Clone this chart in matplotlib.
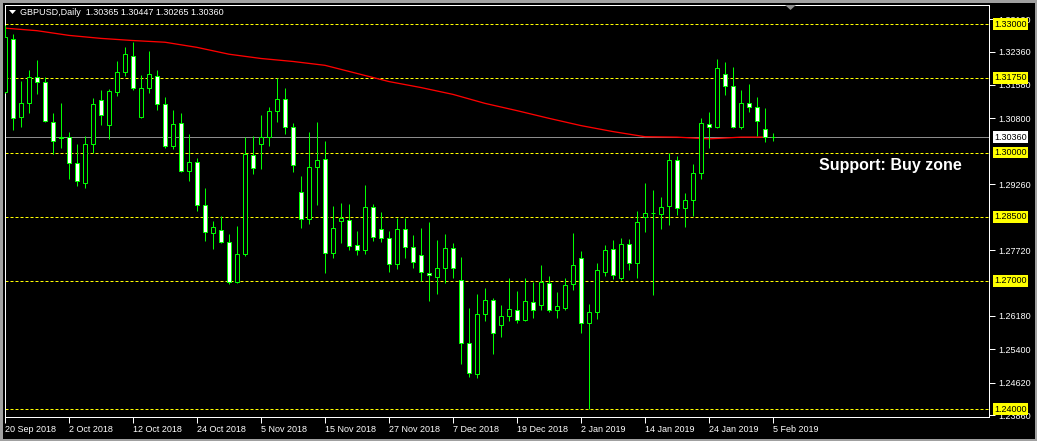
import numpy as np
import matplotlib
matplotlib.use("Agg")
import matplotlib.pyplot as plt
from matplotlib.patches import Polygon, Rectangle

# GBPUSD daily candles, 20 Sep 2018 .. 5 Feb 2019
opens = [1.31406, 1.32648, 1.30820, 1.31148, 1.31758, 1.31641, 1.30703, 1.30375, 1.30352, 1.29766,
         1.29297, 1.30211, 1.31219, 1.30633, 1.31406, 1.31875, 1.32250, 1.30820, 1.31500, 1.31781,
         1.31125, 1.30164, 1.30680, 1.29578, 1.29789, 1.28781, 1.28125, 1.28195, 1.27914, 1.26977,
         1.27633, 1.29953, 1.30211, 1.30352, 1.30961, 1.31242, 1.30609, 1.29086, 1.28453, 1.29672,
         1.29859, 1.27656, 1.28406, 1.28430, 1.27844, 1.27727, 1.28734, 1.28219, 1.28008, 1.27398,
         1.28219, 1.27797, 1.27609, 1.27188, 1.27094, 1.27305, 1.27773, 1.27023, 1.25547, 1.24820,
         1.26227, 1.26555, 1.25969, 1.26180, 1.26320, 1.26086, 1.26508, 1.26438, 1.26953, 1.26320,
         1.26367, 1.26930, 1.27539, 1.26016, 1.26273, 1.27211, 1.27750, 1.27070, 1.27867, 1.27422,
         1.28500, 1.28594, 1.28570, 1.28758, 1.29836, 1.28711, 1.28898, 1.29531, 1.30656, 1.30586,
         1.31828, 1.31547, 1.30609, 1.31148, 1.31055, 1.30539, 1.30365]
highs = [1.32977, 1.32766, 1.31664, 1.31922, 1.32156, 1.31758, 1.30914, 1.31148, 1.30469, 1.30211,
         1.30398, 1.31266, 1.31453, 1.31477, 1.32133, 1.32461, 1.32578, 1.31805, 1.32367, 1.31922,
         1.31289, 1.30984, 1.30914, 1.30445, 1.29883, 1.29180, 1.28406, 1.28523, 1.28102, 1.28289,
         1.30375, 1.30398, 1.30867, 1.31055, 1.31734, 1.31500, 1.30680, 1.29461, 1.30469, 1.30703,
         1.30281, 1.28758, 1.28828, 1.28805, 1.28172, 1.29250, 1.28805, 1.28617, 1.28172, 1.28477,
         1.28477, 1.28078, 1.28242, 1.28383, 1.27961, 1.28102, 1.27891, 1.27563, 1.26367, 1.26695,
         1.26836, 1.26602, 1.26438, 1.27070, 1.26766, 1.27070, 1.26977, 1.27375, 1.27117, 1.26742,
         1.27070, 1.28125, 1.27703, 1.26461, 1.27422, 1.27844, 1.27961, 1.28008, 1.27984, 1.28641,
         1.29297, 1.29133, 1.28969, 1.30000, 1.29930, 1.29063, 1.29742, 1.30797, 1.30938, 1.32180,
         1.32109, 1.31992, 1.31453, 1.31594, 1.31289, 1.31031, 1.30447]
lows = [1.31383, 1.30516, 1.30586, 1.30914, 1.31359, 1.30703, 1.29977, 1.30117, 1.29391, 1.29227,
        1.29180, 1.30000, 1.30633, 1.30328, 1.31313, 1.31781, 1.31453, 1.30797, 1.31383, 1.30984,
        1.30117, 1.30094, 1.29555, 1.29344, 1.28641, 1.27938, 1.27750, 1.27891, 1.26930, 1.26953,
        1.27586, 1.29508, 1.29625, 1.30164, 1.30703, 1.30445, 1.29555, 1.28242, 1.28336, 1.28781,
        1.27188, 1.27539, 1.27891, 1.27727, 1.27609, 1.27633, 1.27938, 1.27914, 1.27211, 1.27281,
        1.27539, 1.27305, 1.27000, 1.26531, 1.26695, 1.26953, 1.27070, 1.25055, 1.24750, 1.24727,
        1.26063, 1.25289, 1.25688, 1.26063, 1.26016, 1.26063, 1.26133, 1.26320, 1.26273, 1.26133,
        1.26320, 1.26789, 1.25781, 1.24000, 1.26109, 1.27117, 1.27047, 1.27023, 1.27258, 1.27070,
        1.28148, 1.26672, 1.28219, 1.28313, 1.28547, 1.28266, 1.28523, 1.29391, 1.30117, 1.30563,
        1.31336, 1.30563, 1.30539, 1.30938, 1.30398, 1.30258, 1.30265]
closes = [1.32695, 1.30797, 1.31148, 1.31758, 1.31641, 1.30727, 1.30281, 1.30340, 1.29766, 1.29344,
          1.30211, 1.31125, 1.30867, 1.31430, 1.31875, 1.32297, 1.31500, 1.31500, 1.31828, 1.31125,
          1.30164, 1.30656, 1.29578, 1.29789, 1.28781, 1.28148, 1.28266, 1.27914, 1.26977, 1.27633,
          1.29977, 1.29648, 1.30352, 1.30961, 1.31242, 1.30586, 1.29719, 1.28453, 1.29672, 1.29836,
          1.27656, 1.28242, 1.28477, 1.27820, 1.27727, 1.28734, 1.28031, 1.28008, 1.27398, 1.28219,
          1.27797, 1.27445, 1.27211, 1.27141, 1.27305, 1.27773, 1.27305, 1.25547, 1.24844, 1.26227,
          1.26555, 1.25781, 1.26180, 1.26344, 1.26086, 1.26531, 1.26320, 1.26977, 1.26320, 1.26414,
          1.26906, 1.27375, 1.26016, 1.26273, 1.27258, 1.27727, 1.27141, 1.27867, 1.27422, 1.28383,
          1.28594, 1.28582, 1.28734, 1.29836, 1.28711, 1.28898, 1.29531, 1.30680, 1.30586, 1.31969,
          1.31547, 1.30609, 1.31148, 1.31055, 1.30727, 1.30352, 1.30360]

# red moving average, sampled at these candle numbers
ma_idx = [0, 4, 8, 12, 16, 20, 24, 28, 32, 36, 40, 44, 48, 52, 56, 60, 64, 68, 72, 76, 80, 84, 88, 92, 95]
ma_vals = [1.3291, 1.3285, 1.3274, 1.3267, 1.3262, 1.3258, 1.3246, 1.3230, 1.3220, 1.3213, 1.3204,
           1.3185, 1.3166, 1.3152, 1.3136, 1.3115, 1.3098, 1.3080, 1.3063, 1.3049, 1.3037, 1.3036,
           1.3032, 1.3036, 1.3036]

levels = [1.33000, 1.31750, 1.30000, 1.28500, 1.27000, 1.24000]
last_price = 1.30360
price_ticks = [1.33120, 1.32360, 1.31580, 1.30800, 1.29260, 1.27720,
               1.26180, 1.25400, 1.24620, 1.23860]
date_labels = ["20 Sep 2018", "2 Oct 2018", "12 Oct 2018", "24 Oct 2018", "5 Nov 2018",
               "15 Nov 2018", "27 Nov 2018", "7 Dec 2018", "19 Dec 2018", "2 Jan 2019",
               "14 Jan 2019", "24 Jan 2019", "5 Feb 2019"]

W, H = 1037, 441
PX = 0.72  # one pixel in points at dpi 100
FS = 6.5
FONT = "Liberation Sans"
GREEN = "#00ff00"

plt.rcParams["font.family"] = [FONT, "DejaVu Sans"]

fig = plt.figure(figsize=(W / 100, H / 100), dpi=100, facecolor="black")
ax = fig.add_axes([5 / W, (H - 417) / H, 984 / W, 412 / H])
ax.set_facecolor("black")

o = np.array(opens)
c = np.array(closes)
idx = np.arange(len(o))
bull = c >= o

# candles
ax.vlines(idx, lows, highs, color=GREEN, lw=PX, zorder=3)
ax.bar(idx, np.maximum(np.abs(c - o), 0.00003), bottom=np.minimum(o, c), width=0.5,
       color=np.where(bull, "black", "white"), edgecolor=GREEN, linewidth=PX, zorder=4)

# moving average
ax.plot(ma_idx, ma_vals, color="red", lw=PX * 1.3, zorder=2)

# levels and bid line
for lv in levels:
    ax.axhline(lv, color="yellow", lw=PX, ls=(0, (3, 2)), zorder=1)
    ax.annotate(f"{lv:.5f}", xy=(1, lv), xycoords=ax.get_yaxis_transform(),
                xytext=(5, 0), textcoords="offset pixels", ha="left", va="center",
                fontsize=FS, color="black", annotation_clip=False, zorder=10,
                bbox=dict(boxstyle="square,pad=0.15", fc="yellow", ec="none"))
ax.axhline(last_price, color="#8c8c8c", lw=PX, zorder=1)
ax.annotate(f"{last_price:.5f}", xy=(1, last_price), xycoords=ax.get_yaxis_transform(),
            xytext=(5, 0), textcoords="offset pixels", ha="left", va="center",
            fontsize=FS, color="black", annotation_clip=False, zorder=10,
            bbox=dict(boxstyle="square,pad=0.15", fc="white", ec="none"))

ax.set_xlim(0, 123)
ax.set_ylim(1.23814, 1.33451)

ax.yaxis.tick_right()
ax.set_yticks(price_ticks)
ax.set_yticklabels([f"{v:.5f}" for v in price_ticks])
ax.set_xticks(np.arange(len(date_labels)) * 8)
ax.set_xticklabels(date_labels)
for lab in ax.get_xticklabels():
    lab.set_ha("left")
ax.tick_params(axis="both", colors="white", labelcolor="white", labelsize=FS,
               length=4, width=PX)
ax.tick_params(axis="y", pad=3)
ax.tick_params(axis="x", pad=2)
for sp in ax.spines.values():
    sp.set_color("white")
    sp.set_linewidth(PX)

# header and annotation
fig.text(20 / W, 1 - 12.5 / H, "GBPUSD,Daily  1.30365 1.30447 1.30265 1.30360",
         color="white", fontsize=FS, va="center", ha="left")
fig.patches.append(Polygon([(9 / W, 1 - 10 / H), (16 / W, 1 - 10 / H), (12.5 / W, 1 - 14 / H)],
                           closed=True, fc="white", ec="none", transform=fig.transFigure))
fig.patches.append(Polygon([(785 / W, 1 - 5 / H), (796 / W, 1 - 5 / H), (790.5 / W, 1 - 10 / H)],
                           closed=True, fc="#8c8c8c", ec="none", transform=fig.transFigure))
fig.patches.append(Rectangle((0, 0), 1, 1, fill=False, ec="#a0a0a0", lw=5 * PX,
                             transform=fig.transFigure))
fig.text(819 / W, 1 - 165.5 / H, "Support: Buy zone", color="white", fontsize=11.5,
         fontweight="bold", va="center", ha="left")

fig.savefig("out.png", dpi=100, facecolor="black")
